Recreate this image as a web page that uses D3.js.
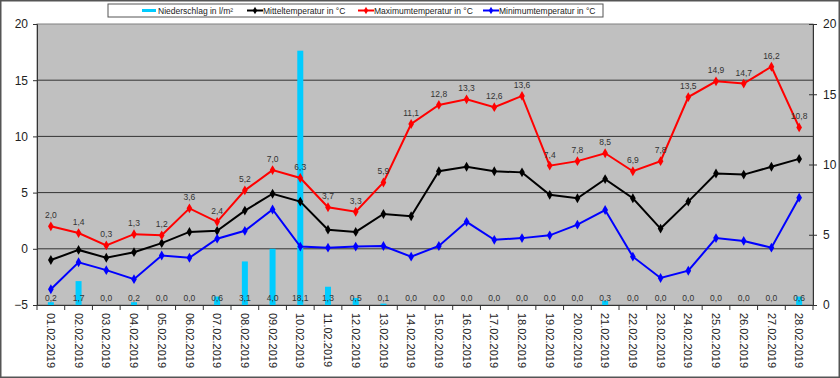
<!DOCTYPE html>
<html>
<head>
<meta charset="utf-8">
<script src="https://cdn.jsdelivr.net/npm/d3@7"></script>
<style>
  body { margin: 0; background: #fff; }
  svg text { font-family: "Liberation Sans", Arial, sans-serif; }
</style>
</head>
<body>
<div id="chart"></div>
<script>
// Weather for February 2019: temperatures on the left axis, rain on the right.
const days = ["01.02.2019", "02.02.2019", "03.02.2019", "04.02.2019", "05.02.2019", "06.02.2019", "07.02.2019",
    "08.02.2019", "09.02.2019", "10.02.2019", "11.02.2019", "12.02.2019", "13.02.2019", "14.02.2019",
    "15.02.2019", "16.02.2019", "17.02.2019", "18.02.2019", "19.02.2019", "20.02.2019", "21.02.2019",
    "22.02.2019", "23.02.2019", "24.02.2019", "25.02.2019", "26.02.2019", "27.02.2019", "28.02.2019"];
const rain = [0.2, 1.7, 0.0, 0.2, 0.0, 0.0, 0.6, 3.1, 4.0, 18.1, 1.3, 0.5, 0.1, 0.0,
    0.0, 0.0, 0.0, 0.0, 0.0, 0.0, 0.3, 0.0, 0.0, 0.0, 0.0, 0.0, 0.0, 0.6];
const meanTemp = [-1.0, -0.1, -0.8, -0.3, 0.5, 1.5, 1.6, 3.4, 4.9, 4.2, 1.7, 1.5, 3.1, 2.9,
    6.9, 7.3, 6.9, 6.8, 4.8, 4.5, 6.2, 4.5, 1.8, 4.2, 6.7, 6.6, 7.3, 8.0];
const maxTemp = [2.0, 1.4, 0.3, 1.3, 1.2, 3.6, 2.4, 5.2, 7.0, 6.3, 3.7, 3.3, 5.9, 11.1,
    12.8, 13.3, 12.6, 13.6, 7.4, 7.8, 8.5, 6.9, 7.8, 13.5, 14.9, 14.7, 16.2, 10.8];
const minTemp = [-3.6, -1.2, -1.9, -2.7, -0.6, -0.8, 0.9, 1.6, 3.5, 0.2, 0.1, 0.2, 0.25, -0.7,
    0.25, 2.4, 0.8, 0.95, 1.2, 2.15, 3.45, -0.7, -2.6, -1.95, 0.95, 0.7, 0.1, 4.55];
const leftTicks = [-5, 0, 5, 10, 15, 20];
const rightTicks = [0, 5, 10, 15, 20];
const gridValues = [0, 5, 10, 15];

const WIDTH = 840, HEIGHT = 378;
const MARGIN = { top: 24, right: 27, bottom: 73, left: 37 };
const INNER_W = WIDTH - MARGIN.left - MARGIN.right;
const INNER_H = HEIGHT - MARGIN.top - MARGIN.bottom;

const fmt = v => v.toFixed(1).replace(".", ",");

const svg = d3.select("#chart").append("svg")
    .attr("width", WIDTH)
    .attr("height", HEIGHT);

// Outer frame
svg.append("rect")
    .attr("x", 0.75).attr("y", 0.75)
    .attr("width", WIDTH - 1.5).attr("height", HEIGHT - 1.5)
    .attr("fill", "#fff").attr("stroke", "#555").attr("stroke-width", 1.5);

const chart = svg.append("g")
    .attr("transform", `translate(${MARGIN.left}, ${MARGIN.top})`);

const x = d3.scaleBand().domain(days).range([0, INNER_W]);
const yLeft = d3.scaleLinear().domain([-5, 20]).range([INNER_H, 0]);
const yRight = d3.scaleLinear().domain([0, 20]).range([INNER_H, 0]);
const cx = d => x(d) + x.bandwidth() / 2;

chart.append("rect")
    .attr("width", INNER_W).attr("height", INNER_H)
    .attr("fill", "#c0c0c0").attr("stroke", "#808080");

chart.selectAll(".grid")
    .data(gridValues)
    .join("line")
    .attr("x1", 0).attr("x2", INNER_W)
    .attr("y1", d => yLeft(d)).attr("y2", d => yLeft(d))
    .attr("stroke", "#333").attr("stroke-width", 1);

// Rain bars on the secondary axis
chart.selectAll(".bar")
    .data(days)
    .join("rect")
    .attr("x", (d, i) => cx(d) - 3)
    .attr("width", 6)
    .attr("y", (d, i) => yRight(rain[i]))
    .attr("height", (d, i) => INNER_H - yRight(rain[i]))
    .attr("fill", "#00ccff");

chart.selectAll(".rainLabel")
    .data(days)
    .join("text")
    .attr("x", d => cx(d))
    .attr("y", INNER_H - 4)
    .attr("text-anchor", "middle")
    .style("font-size", "8.5px")
    .attr("fill", "#333")
    .text((d, i) => fmt(rain[i]));

// Temperature lines
const series = [
    { values: meanTemp, color: "#000" },
    { values: maxTemp, color: "#ff0000" },
    { values: minTemp, color: "#0000ff" }
];
const line = d3.line()
    .x((v, i) => cx(days[i]))
    .y(v => yLeft(v));

series.forEach(s => {
    chart.append("path")
        .datum(s.values)
        .attr("fill", "none")
        .attr("stroke", s.color)
        .attr("stroke-width", 2)
        .attr("d", line);
    chart.selectAll(null)
        .data(s.values)
        .join("path")
        .attr("transform", (v, i) => `translate(${cx(days[i])}, ${yLeft(v)})`)
        .attr("d", d3.symbol(d3.symbolDiamond, 28))
        .attr("fill", s.color);
});

chart.selectAll(".maxLabel")
    .data(maxTemp)
    .join("text")
    .attr("x", (v, i) => cx(days[i]))
    .attr("y", v => yLeft(v) - 8)
    .attr("text-anchor", "middle")
    .style("font-size", "8.5px")
    .attr("fill", "#333")
    .text(v => fmt(v));

// Axes
const leftAxis = chart.append("g")
    .call(d3.axisLeft(yLeft).tickValues(leftTicks).tickSize(4).tickPadding(5));
const rightAxis = chart.append("g")
    .attr("transform", `translate(${INNER_W}, 0)`)
    .call(d3.axisRight(yRight).tickValues(rightTicks).tickSize(4).tickPadding(6));
rightAxis.selectAll(".tick line").attr("x1", -4);

const bottomAxis = chart.append("g")
    .attr("transform", `translate(0, ${INNER_H})`)
    .call(d3.axisBottom(x).tickSize(0).tickPadding(0));
bottomAxis.selectAll(".tick text")
    .attr("transform", "rotate(90)")
    .attr("x", 8).attr("y", 0).attr("dy", "0.35em")
    .attr("text-anchor", "start")
    .style("font-size", "11px");

// Category separators on the x axis
chart.selectAll(".xtick")
    .data(d3.range(days.length + 1))
    .join("line")
    .attr("x1", i => i * x.step()).attr("x2", i => i * x.step())
    .attr("y1", INNER_H).attr("y2", INNER_H + 5)
    .attr("stroke", "#333");

[leftAxis, rightAxis, bottomAxis].forEach(a => {
    a.select(".domain").attr("stroke", "#333");
    a.selectAll(".tick line").attr("stroke", "#333");
    a.selectAll(".tick text").attr("fill", "#222");
});
leftAxis.selectAll(".tick text").style("font-size", "12px");
rightAxis.selectAll(".tick text").style("font-size", "12px");

// Legend
const legend = svg.append("g").attr("transform", "translate(108, 4)");
legend.append("rect")
    .attr("width", 495).attr("height", 13)
    .attr("fill", "#fff").attr("stroke", "#555");
const legendItems = [
    { label: "Niederschlag in l/m²", color: "#00ccff", x: 34, bar: true },
    { label: "Mitteltemperatur in °C", color: "#000", x: 139 },
    { label: "Maximumtemperatur in °C", color: "#ff0000", x: 250 },
    { label: "Minimumtemperatur in °C", color: "#0000ff", x: 375 }
];
legendItems.forEach(it => {
    if (it.bar) {
        legend.append("rect")
            .attr("x", it.x).attr("y", 5).attr("width", 14).attr("height", 3)
            .attr("fill", it.color);
    } else {
        legend.append("line")
            .attr("x1", it.x).attr("x2", it.x + 16)
            .attr("y1", 6.5).attr("y2", 6.5)
            .attr("stroke", it.color).attr("stroke-width", 2);
        legend.append("path")
            .attr("transform", `translate(${it.x + 8}, 6.5)`)
            .attr("d", d3.symbol(d3.symbolDiamond, 16))
            .attr("fill", it.color);
    }
    legend.append("text")
        .attr("x", it.x + 16).attr("y", 9.5)
        .style("font-size", "8.5px")
        .attr("fill", "#222")
        .text(it.label);
});
</script>
</body>
</html>
